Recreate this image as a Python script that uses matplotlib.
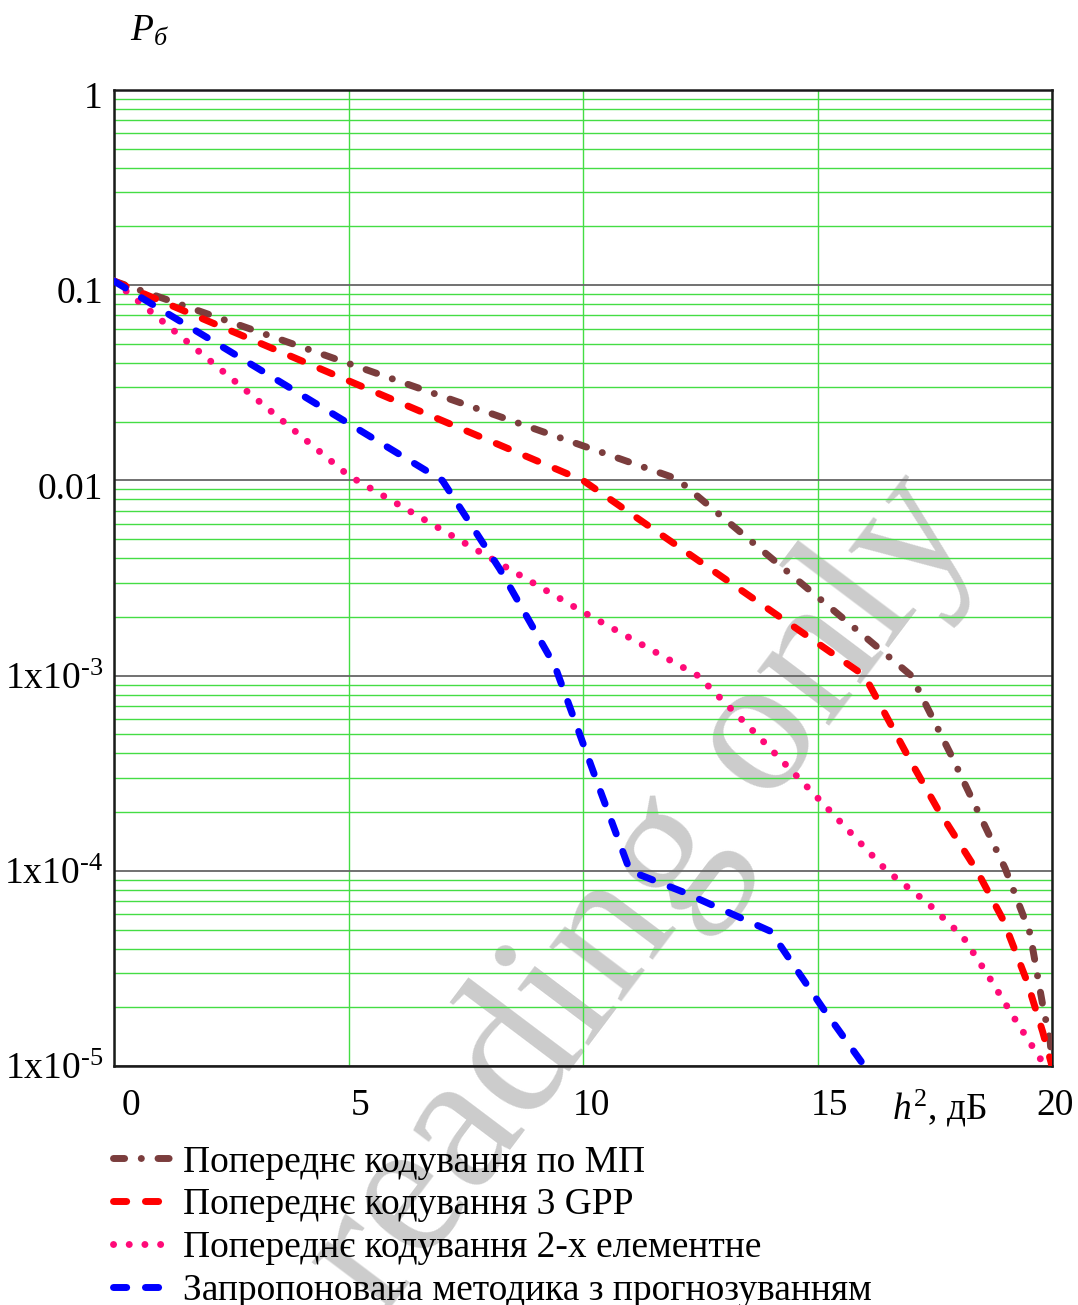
import matplotlib
matplotlib.use("Agg")
import matplotlib.pyplot as plt
import matplotlib.transforms as mtransforms
from matplotlib.ticker import LogLocator, NullFormatter, FixedLocator

plt.rcParams['font.family'] = ['Liberation Serif', 'DejaVu Serif']
plt.rcParams['mathtext.fontset'] = 'custom'
plt.rcParams['mathtext.rm'] = 'Liberation Serif'
plt.rcParams['mathtext.it'] = 'Liberation Serif:italic'

# --- data (h^2 in dB, error probability) ---
x_mp = [0, 12, 17, 17.83, 19.0, 19.53, 19.81, 19.96, 20]
p_mp = [0.105, 0.0102, 0.001, 4e-4, 1.03e-4, 4.8e-5, 2e-5, 1.35e-5, 1e-5]

x_3gpp = [0, 10, 16, 16.97, 17.55, 18.4, 18.96, 19.47, 19.8, 20]
p_3gpp = [0.105, 0.01, 0.001, 3.7e-4, 2.1e-4, 1e-4, 5.6e-5, 2.7e-5, 1.5e-5, 1e-5]

x_2el = [0, 5, 10, 12.45, 13.7, 14.84, 15.9, 16.48, 17.33, 18.1, 18.68, 19.17, 19.85]
p_2el = [0.105, 0.0106, 0.00212, 0.001, 5e-4, 2.6e-4, 1.4e-4, 1.0e-4, 6.9e-5,
         4.6e-5, 2.8e-5, 1.8e-5, 1e-5]

x_prop = [0, 5, 7, 8.23, 9.4, 10.36, 11, 12.13, 14, 15.1, 16]
p_prop = [0.105, 0.0196, 0.01, 0.0035, 0.00112, 2.6e-4, 1e-4, 7.8e-5, 4.9e-5,
          2e-5, 1e-5]

labels = ["Попереднє кодування по МП",
          "Попереднє кодування 3 GPP",
          "Попереднє кодування 2-х елементне",
          "Запропонована методика з прогнозуванням"]

x_ticks = [0, 5, 10, 15, 20]
y_ticks = [1e-5, 1e-4, 1e-3, 1e-2, 1e-1, 1]
y_ticklabels = [r"1x10$^{\text{-}5}$", r"1x10$^{\text{-}4}$",
                r"1x10$^{\text{-}3}$", "0.01", "0.1", "1"]

fig = plt.figure(figsize=(10.78, 13.05), dpi=100)
ax = fig.add_axes([0.1058, 0.1831, 0.8701, 0.7479])
ax.patch.set_alpha(0)

# watermark sits under everything
fig.text(0.596, 0.314, "reading only", rotation=53, ha="center", va="center",
         fontsize=142, color="#cccccc", zorder=-1)

lw = 5.0
ax.plot(x_mp, p_mp, color="#7b3d3d", lw=lw, dashes=(1.6, 2.4, 0.01, 2.4),
        dash_capstyle="round", label=labels[0], zorder=5)
ax.plot(x_3gpp, p_3gpp, color="#ff0000", lw=lw, dashes=(1.9, 2.7),
        dash_capstyle="round", label=labels[1], zorder=5)
ax.plot(x_2el, p_2el, color="#ff0a78", lw=lw, dashes=(0.01, 2.25),
        dash_capstyle="round", label=labels[2], zorder=5)
ax.plot(x_prop, p_prop, color="#0000ff", lw=lw, dashes=(1.9, 2.7),
        dash_capstyle="round", label=labels[3], zorder=5)

ax.set_yscale("log")
ax.set_xlim(0, 20)
ax.set_ylim(1e-5, 1)

ax.yaxis.set_major_locator(FixedLocator(y_ticks))
ax.set_yticklabels(y_ticklabels)
ax.yaxis.set_minor_locator(LogLocator(base=10, subs=range(2, 10)))
ax.yaxis.set_minor_formatter(NullFormatter())
ax.set_xticks(x_ticks)
ax.set_xticklabels([str(v) for v in x_ticks])

ax.tick_params(axis="both", which="both", length=0, labelsize=27)
ax.tick_params(axis="x", pad=16)
ax.tick_params(axis="y", pad=8)

# the reference places the x labels a bit right of the grid lines
x_shift_px = [17, 12, 8, 12, 3]
for lab, dx in zip(ax.get_xticklabels(), x_shift_px):
    off = mtransforms.ScaledTranslation(dx / 100, 0, fig.dpi_scale_trans)
    lab.set_transform(lab.get_transform() + off)
for lab in ax.get_yticklabels():
    if "$" not in lab.get_text():
        off = mtransforms.ScaledTranslation(0, -5 / 100, fig.dpi_scale_trans)
        lab.set_transform(lab.get_transform() + off)

ax.grid(True, which="minor", axis="y", color="#44dd44", lw=1.0, zorder=1)
ax.grid(True, which="major", axis="y", color="#666666", lw=1.3, zorder=1)
ax.grid(True, which="major", axis="x", color="#44dd44", lw=1.0, zorder=1)
for s in ax.spines.values():
    s.set_linewidth(1.8)
    s.set_color("#1a1a1a")

ax.annotate(r"$h^2$, дБ", xy=(17.6, 0), xycoords=("data", "axes fraction"),
            xytext=(0, -16), textcoords="offset points",
            ha="center", va="top", fontsize=27)
fig.text(0.121, 0.976, r"$P_б$", ha="left", va="center", fontsize=27)

fig.legend(loc="upper left", bbox_to_anchor=(0.105, 0.1226), frameon=False,
           fontsize=27, handlelength=1.65, handletextpad=0.21,
           labelspacing=0.22, borderaxespad=0, borderpad=0)

fig.savefig("out.png", dpi=100)
